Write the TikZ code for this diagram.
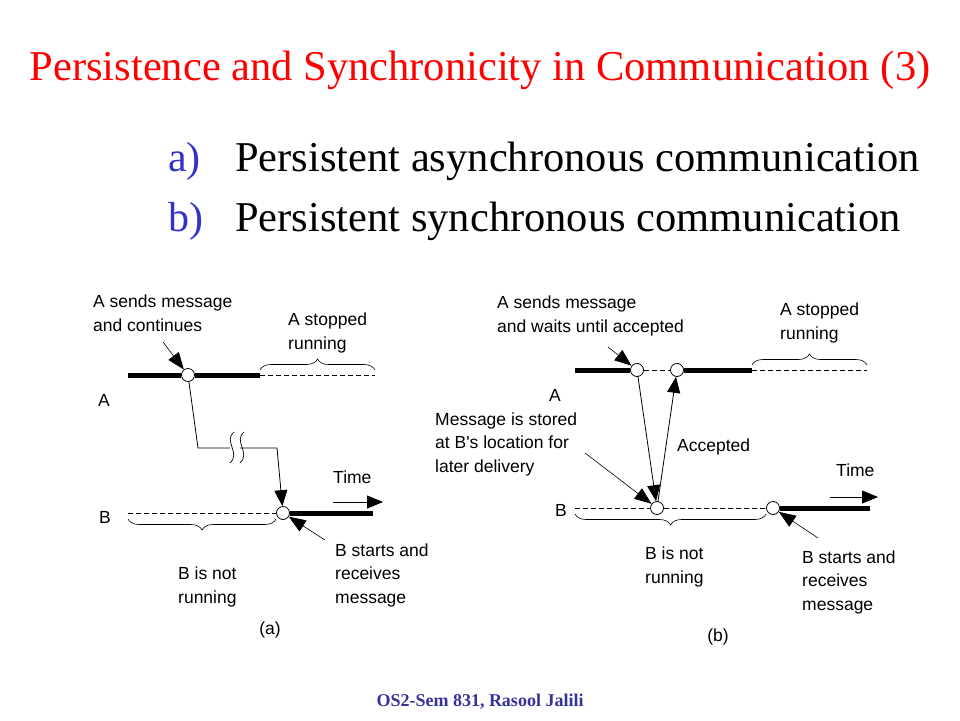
\documentclass[tikz,border=0pt]{standalone}
\usepackage{fontspec}
\setmainfont{Liberation Serif}
\newfontfamily\diagfont{Liberation Sans}
\usetikzlibrary{arrows.meta}
\usetikzlibrary{decorations.pathreplacing}
\usetikzlibrary{positioning}
\definecolor{titlered}{RGB}{255,0,0}
\definecolor{itemblue}{RGB}{51,51,204}
\definecolor{footblue}{RGB}{51,51,153}

\begin{document}
\begin{tikzpicture}[x=1pt, y=-1pt, every node/.style={inner sep=0pt},
  label text/.style={font=\diagfont\fontsize{17.5}{23.5}\selectfont, align=left, anchor=west},
  event/.style={circle, draw, fill=white, line width=0.8pt, minimum size=13pt},
  running/.style={line width=5pt},
  idle/.style={dash pattern=on 5pt off 3pt, line width=0.8pt},
  msg/.style={-{Triangle[length=16pt,width=13pt]}, line width=0.8pt},
  pointer/.style={-{Triangle[length=17pt,width=13pt]}, line width=0.6pt},
  period/.style={decorate, decoration={brace, amplitude=11pt}, line width=0.6pt}]

\useasboundingbox (0,0) rectangle (960,720);

\node [text=titlered, font=\fontsize{42.5}{50}\selectfont, anchor=base] (title) at (480,80)
  {Persistence and Synchronicity in Communication (3)};

\foreach \m/\t [count=\y] in {a/Persistent asynchronous communication,
                              b/Persistent synchronous communication} {
  \node [text=itemblue, font=\fontsize{42}{50}\selectfont, anchor=base west] (item-\m) at (168,111+\y*60) {\m)};
  \node [font=\fontsize{42.5}{50}\selectfont, anchor=base west] (text-\m) at (235,111+\y*60) {\t};
}

\node [text=footblue, font=\bfseries\fontsize{18}{22}\selectfont, anchor=base] (footer) at (480,706)
  {OS2-Sem 831, Rasool Jalili};

% (a) persistent asynchronous
\node [event] (sendA) at (188,375) {};
\node [event] (recvB) at (283,513) {};

\coordinate (a-start) at (128,375);
\coordinate (a-stop) at (260,375);
\coordinate (a-end) at (375,375);
\coordinate (b-start) at (128,513);
\coordinate (b-end) at (373,513);

\draw [running] (a-start) -- (sendA.west);
\draw [running] (sendA.east) -- (a-stop);
\draw [idle] (a-stop) -- (a-end);
\draw [period] ([yshift=5pt]a-stop) -- ([yshift=5pt]a-end);

\draw [idle] (b-start) -- (recvB.west);
\draw [running] (recvB.east) -- (b-end);
\draw [period] ([yshift=-6pt]recvB.west) -- ([yshift=-6pt]b-start);

\coordinate (bend1) at (198,448);
\coordinate (break1) at (230,448);
\coordinate (break2) at (240,448);
\coordinate (bend2) at (277,448);
\draw [msg] (sendA) -- (bend1) -- (break1) (break2) -- (bend2) -- (recvB);
\foreach \x in {234,244}
  \draw [line width=0.7pt] (\x,432) .. controls (\x-11,441) and (\x+7,453) .. (\x-4,463);

\node [label text] (labelA) at (98,400) {A};
\node [label text] (labelB) at (99,517) {B};
\node [label text] (sendA-text) at (93,313) {A sends message\\and continues};
\node [label text] (stopA-text) at (288,333) {A stopped\\running};
\node [label text] (idleB-text) at (178,587) {B is not\\running};
\node [label text] (recvB-text) at (335,575) {B starts and\\receives\\message};
\node [label text] (timeA) at (333,477) {Time};
\node [label text, anchor=center] (caption-a) at (270,630) {(a)};

\coordinate (sendA-tail) at (163,342);
\coordinate (recvB-tail) at (325,540);
\draw [pointer] (sendA-tail) -- (sendA);
\draw [pointer] (recvB-tail) -- (recvB);

\coordinate (timeA-tail) at (333,502);
\coordinate (timeA-head) at (383,502);
\draw [msg] (timeA-tail) -- (timeA-head);

% (b) persistent synchronous
\node [event] (sendA2) at (637,370) {};
\node [event] (acceptA2) at (677,370) {};
\node [event] (storeB2) at (657,508) {};
\node [event] (startB2) at (773,508) {};

\coordinate (a2-start) at (575,370);
\coordinate (a2-stop) at (752,370);
\coordinate (a2-end) at (867,370);
\coordinate (b2-start) at (575,508);
\coordinate (b2-end) at (870,508);

\draw [running] (a2-start) -- (sendA2.west);
\draw [idle] (sendA2.east) -- (acceptA2.west);
\draw [running] (acceptA2.east) -- (a2-stop);
\draw [idle] (a2-stop) -- (a2-end);
\draw [period] ([yshift=5pt]a2-stop) -- ([yshift=5pt]a2-end);

\draw [idle] (b2-start) -- (storeB2.west);
\draw [idle] (storeB2.east) -- (startB2.west);
\draw [running] (startB2.east) -- (b2-end);
\draw [period] ([yshift=-6pt]startB2.west) -- ([yshift=-6pt]b2-start);

\draw [msg] (sendA2) -- (storeB2);
\draw [msg] (storeB2) -- (acceptA2);

\node [label text] (labelA2) at (549,395) {A};
\node [label text] (labelB2) at (555,510) {B};
\node [label text] (sendA2-text) at (497,316) {A sends message\\and waits until accepted};
\node [label text] (stopA2-text) at (780,323) {A stopped\\running};
\node [label text] (storeB2-text) at (435,444) {Message is stored\\at B's location for\\later delivery};
\node [label text] (accept-text) at (677,447) {Accepted};
\node [label text] (idleB2-text) at (645,567) {B is not\\running};
\node [label text] (startB2-text) at (802,582) {B starts and\\receives\\message};
\node [label text] (timeB) at (836,470) {Time};
\node [label text, anchor=center] (caption-b) at (718,637) {(b)};

\coordinate (sendA2-tail) at (608,347);
\coordinate (storeB2-tail) at (585,453);
\coordinate (startB2-tail) at (818,538);
\draw [pointer] (sendA2-tail) -- (sendA2);
\draw [pointer] (storeB2-tail) -- (storeB2);
\draw [pointer] (startB2-tail) -- (startB2);

\coordinate (timeB-tail) at (830,497);
\coordinate (timeB-head) at (878,497);
\draw [msg] (timeB-tail) -- (timeB-head);

\end{tikzpicture}
\end{document}
